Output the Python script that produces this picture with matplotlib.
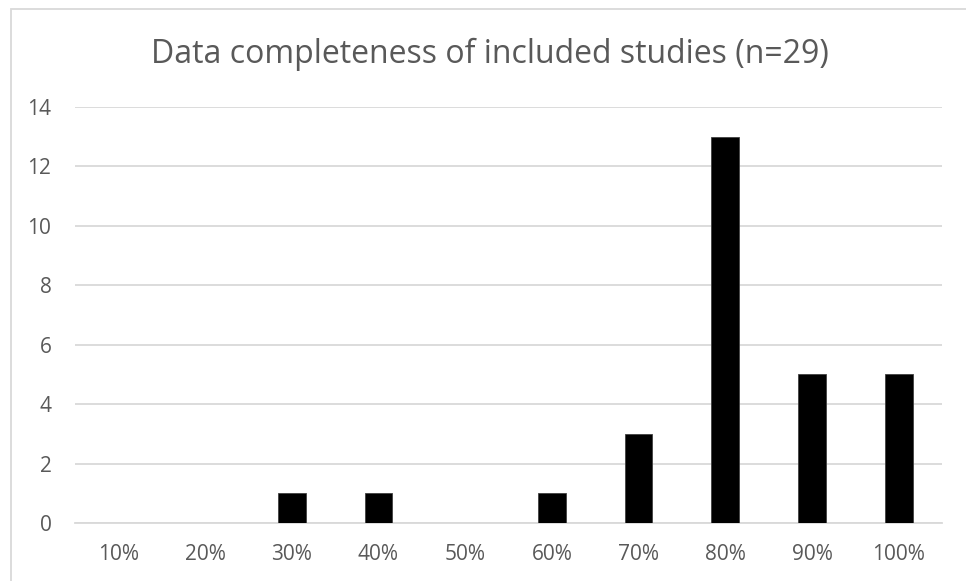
import matplotlib
matplotlib.use("Agg")
import matplotlib.pyplot as plt
from matplotlib.patches import Rectangle

categories = ["10%", "20%", "30%", "40%", "50%", "60%", "70%", "80%", "90%", "100%"]
counts = [0, 0, 1, 1, 0, 1, 3, 13, 5, 5]
yticks = [0, 2, 4, 6, 8, 10, 12, 14]
title = "Data completeness of included studies (n=29)"

plt.rcParams['font.family'] = ['Open Sans', 'DejaVu Sans']
fig = plt.figure(figsize=(9.66, 5.81), dpi=100)
ax = fig.add_axes([75/966, 1-523/581, (942-75)/966, (523-107)/581])

x = list(range(len(categories)))
ax.bar(x, counts, width=0.32, color='black', edgecolor='#404040', linewidth=0.6, zorder=3)
ax.set_xlim(-0.5, len(categories)-0.5)
ax.set_ylim(0, 14)
ax.set_yticks(yticks)
ax.set_xticks(x)
ax.set_xticklabels(categories)
ax.grid(axis='y', color='#d9d9d9', linewidth=1.3, zorder=0)
for s in ['top', 'right', 'left']:
    ax.spines[s].set_visible(False)
ax.spines['bottom'].set_color('#d9d9d9')
ax.spines['bottom'].set_linewidth(1.3)
ax.tick_params(axis='both', length=0, labelsize=15, colors='#595959')
ax.tick_params(axis='y', pad=17)
ax.tick_params(axis='x', pad=15)

fig.text(490/966, 1-63/581, title, ha='center', va='baseline', fontsize=23, color='#595959')

# chart border
fig.patches.append(Rectangle((11/966, -0.1), 1.2, 1-8.5/581+0.1, transform=fig.transFigure,
                             fill=False, edgecolor='#d9d9d9', linewidth=1.3))

fig.savefig("out.png", dpi=100)
